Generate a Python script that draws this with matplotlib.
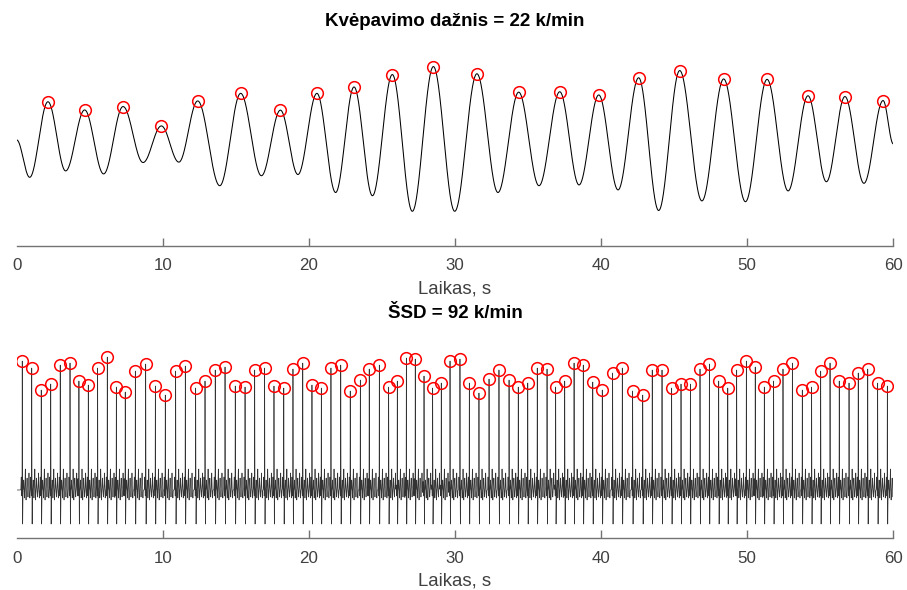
import numpy as np
import matplotlib
matplotlib.use("Agg")
import matplotlib.pyplot as plt

# ---------------- data ----------------
# Respiration: extrema (time in s, amplitude in arbitrary units)
resp_peak_t = [2.14, 4.65, 7.28, 9.90, 12.39, 15.33, 18.05, 20.55, 23.09, 25.71, 28.52,
               31.50, 34.36, 37.17, 39.84, 42.57, 45.38, 48.39, 51.36, 54.16, 56.69, 59.30]
resp_peak_v = [1.03, 0.825, 0.91, 0.425, 1.05, 1.24, 0.82, 1.24, 1.40, 1.71, 1.91,
               1.73, 1.27, 1.28, 1.20, 1.63, 1.81, 1.60, 1.59, 1.18, 1.16, 1.06]
resp_trough_t = [0.0, 0.89, 3.35, 5.95, 8.65, 11.10, 13.90, 16.75, 19.25, 21.83, 24.35, 27.08,
                 29.98, 32.94, 35.75, 38.49, 41.16, 43.94, 46.90, 49.88, 52.80, 55.42, 57.99, 60.0]
resp_trough_v = [0.075, -0.86, -0.70, -0.775, -0.49, -0.48, -1.07, -0.82, -0.79, -1.24, -1.32, -1.71,
                 -1.71, -1.24, -1.07, -1.05, -1.175, -1.69, -1.45, -1.47, -1.20, -0.97, -1.01, -0.025]

# ECG: R-peak times (s) and amplitudes (mV-like units)
r_t = [0.38, 1.03, 1.68, 2.33, 2.98, 3.65, 4.26, 4.90, 5.54, 6.20, 6.82, 7.43, 8.12, 8.83,
       9.49, 10.17, 10.88, 11.54, 12.25, 12.89, 13.59, 14.26, 14.96, 15.63, 16.29, 16.97,
       17.61, 18.28, 18.91, 19.58, 20.21, 20.85, 21.51, 22.18, 22.83, 23.52, 24.13, 24.82,
       25.46, 26.05, 26.67, 27.28, 27.88, 28.47, 29.06, 29.66, 30.34, 30.98, 31.64, 32.33,
       33.01, 33.70, 34.33, 34.98, 35.63, 36.30, 36.89, 37.51, 38.15, 38.78, 39.43, 40.08,
       40.79, 41.45, 42.16, 42.85, 43.50, 44.17, 44.83, 45.47, 46.11, 46.77, 47.41, 48.05,
       48.67, 49.28, 49.94, 50.55, 51.17, 51.81, 52.45, 53.09, 53.77, 54.41, 55.03, 55.67,
       56.30, 56.97, 57.60, 58.25, 58.93, 59.59]
r_v = [1.29, 1.22, 1.00, 1.06, 1.25, 1.27, 1.09, 1.05, 1.22, 1.33, 1.03, 0.98, 1.19, 1.26,
       1.04, 0.95, 1.19, 1.24, 1.02, 1.09, 1.20, 1.23, 1.04, 1.03, 1.20, 1.22, 1.04, 1.02,
       1.21, 1.27, 1.05, 1.02, 1.22, 1.25, 0.99, 1.10, 1.21, 1.25, 1.03, 1.09, 1.32, 1.31,
       1.14, 1.02, 1.07, 1.29, 1.31, 1.07, 0.97, 1.11, 1.20, 1.10, 1.03, 1.07, 1.22, 1.21,
       1.03, 1.09, 1.27, 1.25, 1.08, 1.00, 1.17, 1.22, 0.99, 0.95, 1.20, 1.20, 1.02, 1.06,
       1.06, 1.21, 1.26, 1.09, 1.02, 1.20, 1.29, 1.23, 1.03, 1.09, 1.21, 1.27, 1.00, 1.03,
       1.19, 1.27, 1.09, 1.07, 1.17, 1.21, 1.07, 1.04]

xticks = [0, 10, 20, 30, 40, 50, 60]
title_resp = "Kvėpavimo dažnis = 22 k/min"
title_ecg = "ŠSD = 92 k/min"
xlabel = "Laikas, s"

# ---------------- curves ----------------
# respiration line: smooth (half-cosine) segments between successive extrema
ext = sorted(zip(resp_peak_t + resp_trough_t, resp_peak_v + resp_trough_v))
et = np.array([e[0] for e in ext])
ev = np.array([e[1] for e in ext])
t_resp = np.linspace(0, 60, 6001)
idx = np.clip(np.searchsorted(et, t_resp, side="right") - 1, 0, len(et) - 2)
frac = (t_resp - et[idx]) / (et[idx + 1] - et[idx])
w = 0.5 - 0.5 * np.cos(np.pi * frac)
resp = ev[idx] + (ev[idx + 1] - ev[idx]) * w

# ECG line: a fixed beat shape placed at each R peak
fs = 500
t_ecg = np.arange(0, 60 + 1 / fs, 1 / fs)
ecg = np.zeros_like(t_ecg)
shape = [(-0.07, 0.13, 0.012), (-0.03, -0.06, 0.008), (0.028, -0.34, 0.007),
         (0.10, 0.10, 0.014), (0.15, -0.08, 0.012), (0.21, 0.21, 0.012), (0.26, -0.10, 0.012),
         (0.33, 0.12, 0.014), (0.39, -0.07, 0.012), (0.46, 0.17, 0.012), (0.52, -0.08, 0.012)]
for tr, vr in zip(r_t, r_v):
    ecg += vr * np.exp(-0.5 * ((t_ecg - tr) / 0.006) ** 2)
    for off, a, s in shape:
        ecg += a * np.exp(-0.5 * ((t_ecg - tr - off) / s) ** 2)

# ---------------- figure ----------------
plt.rcParams["font.family"] = ["Liberation Sans", "DejaVu Sans"]
fig = plt.figure(figsize=(9.07, 5.90), dpi=100)

axis_col = (0.45, 0.45, 0.45)
txt_col = (0.25, 0.25, 0.25)

def style(ax, ylim):
    ax.set_xlim(0, 60)
    ax.set_ylim(*ylim)
    for s in ("top", "right", "left"):
        ax.spines[s].set_visible(False)
    ax.spines["bottom"].set_color(axis_col)
    ax.spines["bottom"].set_linewidth(1.0)
    ax.set_yticks([])
    ax.set_xticks(xticks)
    ax.set_xticklabels([str(x) for x in xticks])
    ax.tick_params(axis="x", direction="in", length=6, width=1.0, color=axis_col,
                   labelsize=12.2, labelcolor=txt_col, pad=9)
    ax.xaxis.get_major_ticks()[0].tick1line.set_visible(False)
    ax.set_xlabel(xlabel, fontsize=13.4, color=txt_col, labelpad=5)
    ax.patch.set_alpha(0)

ax1 = fig.add_axes([0.0184, 0.5836, 0.9665, 0.3605])
ax1.plot(t_resp, resp, color="black", lw=0.75)
ax1.plot(resp_peak_t, resp_peak_v, "o", ms=8.4, mfc="none", mec="red", mew=1.1)
style(ax1, (-2.57, 2.75))
ax1.set_title(title_resp, fontsize=13.5, fontweight="bold", pad=5)

ax2 = fig.add_axes([0.0184, 0.0881, 0.9665, 0.361])
ax2.plot(t_ecg, ecg, color=(0.2, 0.2, 0.2), lw=0.5)
ax2.plot(r_t, r_v, "o", ms=8.4, mfc="none", mec="red", mew=1.1)
style(ax2, (-0.48, 1.65))
ax2.set_title(title_ecg, fontsize=13.5, fontweight="bold", pad=5)

fig.savefig("out.png", dpi=100)
